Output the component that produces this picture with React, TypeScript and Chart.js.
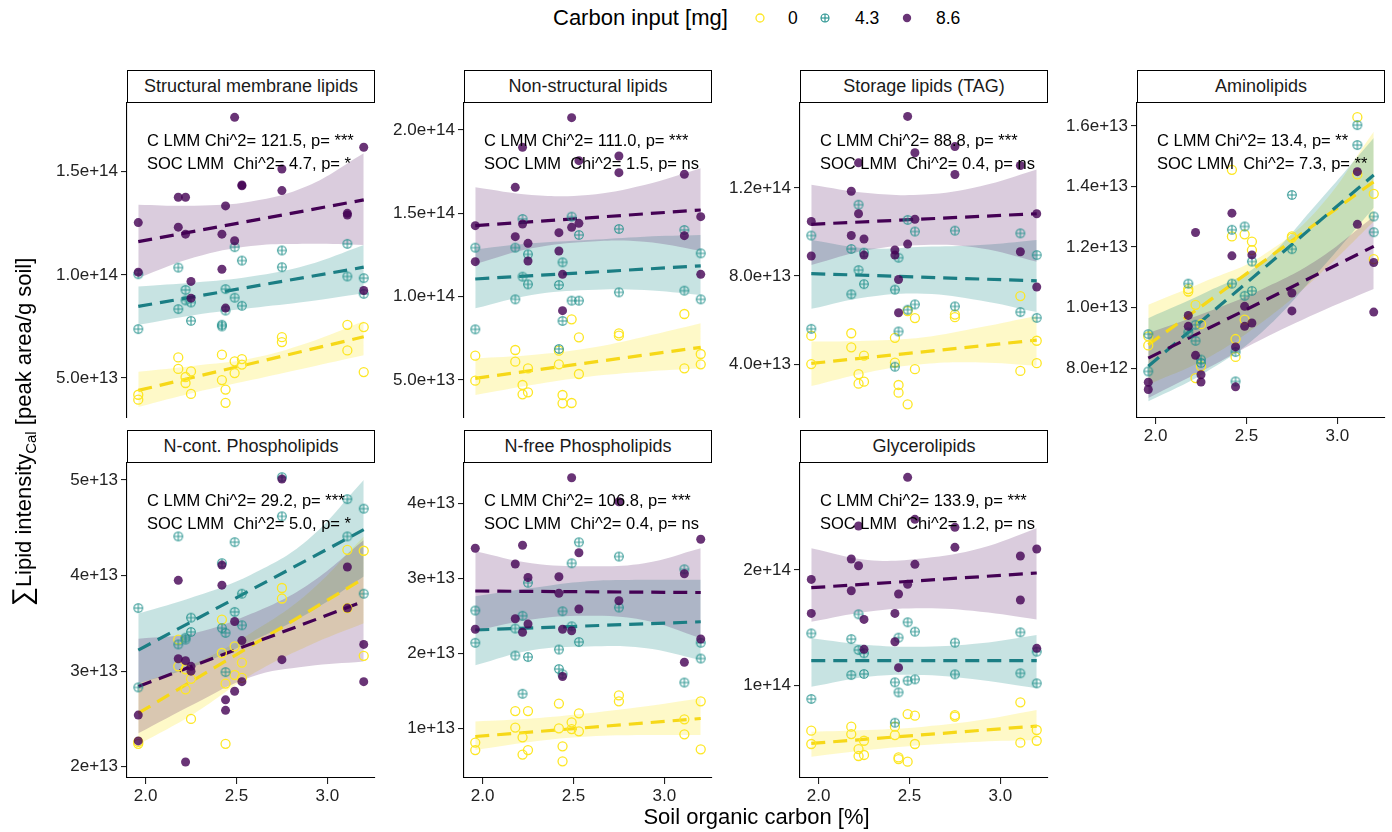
import React, { useEffect, useRef } from "react";
import { Chart, registerables } from "chart.js";
Chart.register(...registerables);

// ---------- shared data ----------
const SOC = [1.96, 2.18, 2.22, 2.25, 2.42, 2.44, 2.49, 2.53, 2.75, 3.11, 3.2];
const BAND_X = [1.96, 2.27, 2.58, 2.89, 3.2];
const LINE_X = [1.96, 3.2];
const X_RANGE = [1.898, 3.262];
const X_TICKS = [2.0, 2.5, 3.0];
const X_TICK_LABELS = ["2.0", "2.5", "3.0"];
const GROUPS = ["0", "4.3", "8.6"];

// ---------- Structural membrane lipids (x1e13) ----------
const SML_0 = [[4.19, 3.95], [6.0, 5.44], [5.05, 4.76], [5.32, 4.23], [6.13, 4.9], [4.44, 3.8], [5.81, 5.24], [5.92, 5.65], [6.98, 6.74], [7.58, 6.34], [7.47, 5.29]];
const SML_43 = [[10.03, 7.37], [10.35, 8.34], [9.27, 8.76], [8.66, 7.77], [7.58, 7.5], [9.31, 8.27], [11.34, 8.89], [10.69, 8.5], [11.18, 10.37], [11.5, 9.92], [9.84, 9.08]];
const SML_86 = [[12.53, 10.13], [13.76, 12.31], [13.76, 11.97], [9.68, 8.87], [11.97, 10.27], [13.34, 8.39], [17.63, 11.65], [14.35, 14.31], [15.13, 14.08], [12.98, 12.9], [16.18, 9.24]];
const SML_FIT = [[4.4, 7.0], [8.47, 10.37], [11.61, 13.63]];
const SML_LO = [[3.6, 4.3, 4.9, 5.5, 6.1], [7.58, 8.06, 8.39, 8.71, 9.11], [9.85, 10.85, 11.4, 11.5, 11.45]];
const SML_HI = [[5.3, 5.6, 5.95, 6.7, 7.75], [9.44, 9.63, 9.92, 10.48, 11.45], [13.4, 13.35, 13.55, 14.3, 15.89]];
const SML_YTICKS = [5e13, 1e14, 1.5e14];
const SML_YLABELS = ["5.0e+13", "1.0e+14", "1.5e+14"];
const SML_YRANGE = [3.064e13, 1.8325e14];
const SML_STATS = ["C LMM Chi^2= 121.5, p= ***", "SOC LMM  Chi^2= 4.7, p= *"];

// ---------- Non-structural lipids (x1e13) ----------
const NSL_0 = [[6.46, 4.96], [6.8, 6.1], [4.7, 4.14], [5.7, 4.26], [6.76, 5.94], [4.1, 3.6], [8.64, 3.62], [7.56, 5.36], [7.8, 7.66], [8.96, 5.7], [6.56, 5.94]];
const NSL_43 = [[12.94, 8.04], [12.94, 9.84], [14.66, 11.2], [12.54, 10.74], [10.7, 6.86], [12.06, 8.54], [14.8, 9.76], [13.7, 9.76], [14.06, 10.26], [14.0, 10.36], [12.6, 9.84]];
const NSL_86 = [[14.26, 12.1], [16.56, 13.6], [18.96, 14.36], [13.2, 12.14], [13.84, 12.74], [11.34, 9.16], [20.74, 14.16], [18.16, 14.4], [18.44, 17.44], [17.34, 13.66], [14.8, 11.34]];
const NSL_FIT = [[5.1, 6.96], [11.06, 11.85], [14.26, 15.2]];
const NSL_LO = [[4.1, 4.7, 5.2, 5.5, 5.7], [9.3, 10.1, 10.4, 10.4, 10.1], [11.96, 12.9, 13.3, 13.3, 12.76]];
const NSL_HI = [[6.3, 6.5, 6.9, 7.6, 8.4], [12.84, 13.2, 13.4, 13.6, 13.7], [16.56, 16.1, 16.1, 16.7, 17.7]];
const NSL_YTICKS = [5e13, 1e14, 1.5e14, 2e14];
const NSL_YLABELS = ["5.0e+13", "1.0e+14", "1.5e+14", "2.0e+14"];
const NSL_YRANGE = [2.72e13, 2.162e14];
const NSL_STATS = ["C LMM Chi^2= 111.0, p= ***", "SOC LMM  Chi^2= 1.5, p= ns"];

// ---------- Storage lipids (TAG) (x1e13) ----------
const TAG_0 = [[5.29, 4.0], [5.4, 4.76], [3.54, 3.11], [4.38, 3.2], [5.19, 4.07], [3.05, 2.7], [6.41, 2.17], [6.09, 3.77], [6.25, 6.13], [7.09, 3.69], [5.06, 4.04]];
const TAG_43 = [[9.84, 5.6], [9.23, 7.17], [11.24, 8.27], [9.06, 7.63], [7.38, 3.88], [8.83, 5.48], [10.55, 6.47], [10.02, 6.71], [10.06, 6.62], [9.94, 6.36], [8.95, 6.1]];
const TAG_86 = [[10.48, 8.91], [11.85, 9.84], [13.14, 10.83], [9.68, 8.95], [9.18, 8.95], [7.84, 6.33], [15.25, 9.45], [13.6, 10.58], [13.88, 12.61], [13.02, 9.1], [10.83, 7.5]];
const TAG_FIT = [[4.03, 5.09], [8.11, 7.78], [10.35, 10.83]];
const TAG_LO = [[3.0, 3.62, 4.0, 4.07, 3.92], [6.51, 7.05, 7.2, 6.89, 6.36], [8.5, 9.18, 9.41, 9.26, 8.65]];
const TAG_HI = [[5.02, 5.06, 5.22, 5.67, 6.2], [9.64, 9.26, 9.33, 9.41, 9.64], [12.15, 11.77, 11.7, 12.08, 12.84]];
const TAG_YTICKS = [4e13, 8e13, 1.2e14];
const TAG_YLABELS = ["4.0e+13", "8.0e+13", "1.2e+14"];
const TAG_YRANGE = [1.55e13, 1.586e14];
const TAG_STATS = ["C LMM Chi^2= 88.8, p= ***", "SOC LMM  Chi^2= 0.4, p= ns"];

// ---------- Aminolipids (x1e12) ----------
const AML_0 = [[8.75, 9.05], [10.61, 10.53], [10.09, 7.67], [9.45, 8.06], [14.55, 12.35], [8.96, 8.37], [12.42, 9.6], [12.18, 11.9], [12.35, 12.3], [16.29, 14.4], [13.76, 11.6]];
const AML_43 = [[9.12, 7.89], [10.79, 9.18], [9.43, 8.9], [8.28, 8.17], [12.57, 10.79], [8.53, 7.56], [12.68, 10.39], [11.52, 10.55], [13.72, 11.93], [16.03, 15.37], [13.01, 12.49]];
const AML_86 = [[7.53, 7.29], [9.74, 9.38], [12.48, 8.42], [7.78, 7.54], [13.12, 11.71], [8.7, 7.38], [10.04, 9.38], [11.74, 9.49], [10.48, 9.89], [14.49, 12.75], [11.49, 9.85]];
const AML_FIT = [[8.77, 14.16], [8.06, 14.38], [8.33, 12.02]];
const AML_LO = [[7.45, 8.28, 9.49, 11.03, 12.84], [6.9, 7.84, 9.16, 11.14, 13.3], [7.01, 7.95, 8.94, 9.82, 10.61]];
const AML_HI = [[10.09, 10.86, 11.69, 13.23, 15.81], [9.65, 10.48, 11.47, 13.45, 15.6], [9.16, 9.82, 10.59, 11.58, 13.01]];
const AML_YTICKS = [8e12, 1e13, 1.2e13, 1.4e13, 1.6e13];
const AML_YLABELS = ["8.0e+12", "1.0e+13", "1.2e+13", "1.4e+13", "1.6e+13"];
const AML_YRANGE = [6.35e12, 1.676e13];
const AML_STATS = ["C LMM Chi^2= 13.4, p= **", "SOC LMM  Chi^2= 7.3, p= **"];

// ---------- N-cont. Phospholipids (x1e13) ----------
const NCP_0 = [[2.26, 2.24], [3.33, 3.05], [3.02, 2.81], [2.92, 2.5], [3.54, 3.19], [2.24, 2.87], [3.26, 2.96], [3.09, 2.93], [3.87, 3.76], [4.27, 3.66], [4.26, 3.16]];
const NCP_43 = [[3.66, 2.83], [4.41, 3.28], [3.35, 3.33], [3.56, 3.41], [4.13, 3.45], [3.4, 2.99], [4.35, 3.62], [3.81, 3.48], [5.03, 4.62], [4.8, 4.41], [4.7, 3.81]];
const NCP_86 = [[2.54, 2.27], [3.95, 3.13], [3.11, 2.05], [3.05, 3.0], [4.11, 3.9], [2.7, 2.59], [3.52, 2.79], [3.32, 2.89], [5.01, 3.12], [4.09, 3.66], [3.28, 2.89]];
const NCP_FIT = [[2.56, 3.97], [3.22, 4.48], [2.84, 3.73]];
const NCP_LO = [[2.23, 2.56, 2.96, 3.26, 3.5], [2.87, 3.05, 3.31, 3.6, 3.99], [2.35, 2.66, 2.94, 3.05, 3.1]];
const NCP_HI = [[2.87, 3.08, 3.4, 3.81, 4.41], [3.6, 3.78, 4.01, 4.37, 5.0], [3.34, 3.4, 3.6, 3.9, 4.37]];
const NCP_YTICKS = [2e13, 3e13, 4e13, 5e13];
const NCP_YLABELS = ["2e+13", "3e+13", "4e+13", "5e+13"];
const NCP_YRANGE = [1.882e13, 5.178e13];
const NCP_STATS = ["C LMM Chi^2= 29.2, p= ***", "SOC LMM  Chi^2= 5.0, p= *"];

// ---------- N-free Phospholipids (x1e13) ----------
const NFP_0 = [[0.81, 0.71], [1.23, 1.01], [0.88, 0.65], [1.23, 0.71], [1.33, 1.0], [0.76, 0.56], [1.08, 0.99], [1.2, 0.96], [1.44, 1.36], [1.12, 0.92], [1.36, 0.72]];
const NFP_43 = [[2.57, 2.14], [2.33, 1.97], [2.5, 1.46], [2.94, 1.95], [2.05, 1.79], [2.56, 1.72], [3.2, 2.36], [3.48, 2.15], [3.29, 2.61], [3.12, 1.61], [2.14, 1.93]];
const NFP_86 = [[3.4, 2.32], [3.19, 2.46], [3.44, 2.28], [3.01, 2.39], [3.02, 2.8], [2.32, 1.69], [4.34, 2.3], [3.34, 2.59], [4.02, 2.7], [3.06, 1.88], [3.52, 2.19]];
const NFP_FIT = [[0.89, 1.13], [2.31, 2.42], [2.83, 2.81]];
const NFP_LO = [[0.71, 0.82, 0.89, 0.91, 0.91], [1.84, 2.04, 2.09, 2.07, 1.91], [2.3, 2.45, 2.5, 2.44, 2.2]];
const NFP_HI = [[1.09, 1.13, 1.2, 1.29, 1.4], [2.76, 2.87, 2.96, 2.98, 2.98], [3.36, 3.2, 3.16, 3.2, 3.4]];
const NFP_YTICKS = [1e13, 2e13, 3e13, 4e13];
const NFP_YLABELS = ["1e+13", "2e+13", "3e+13", "4e+13"];
const NFP_YRANGE = [3.37e12, 4.537e13];
const NFP_STATS = ["C LMM Chi^2= 106.8, p= ***", "SOC LMM  Chi^2= 0.4, p= ns"];

// ---------- Glycerolipids (x1e13) ----------
const GLY_0 = [[6.11, 4.96], [6.46, 5.82], [4.52, 3.92], [5.24, 4.01], [6.46, 5.73], [3.8, 3.66], [7.55, 3.43], [7.41, 4.96], [7.46, 7.32], [8.56, 5.07], [6.17, 5.24]];
const GLY_43 = [[14.52, 8.85], [14.03, 10.92], [16.17, 13.08], [12.8, 11.01], [10.29, 6.8], [14.15, 9.42], [15.48, 10.43], [14.67, 10.55], [13.72, 10.98], [14.61, 11.07], [12.94, 10.2]];
const GLY_86 = [[19.19, 16.25], [20.95, 18.21], [23.8, 20.37], [15.73, 13.14], [16.25, 13.8], [17.93, 11.56], [28.01, 18.76], [24.38, 20.49], [23.69, 21.96], [21.21, 17.41], [21.82, 13.23]];
const GLY_FIT = [[5.01, 6.51], [12.16, 12.16], [18.47, 19.74]];
const GLY_LO = [[3.86, 4.44, 4.87, 5.16, 5.3], [9.91, 10.78, 10.92, 10.49, 9.77], [15.53, 16.4, 16.69, 16.4, 15.73]];
const GLY_HI = [[6.02, 6.17, 6.46, 7.03, 7.9], [14.09, 13.52, 13.37, 13.66, 14.38], [21.87, 20.86, 21.01, 21.87, 23.6]];
const GLY_YTICKS = [1e14, 2e14];
const GLY_YLABELS = ["1e+14", "2e+14"];
const GLY_YRANGE = [2.02e13, 2.925e14];
const GLY_STATS = ["C LMM Chi^2= 133.9, p= ***", "SOC LMM  Chi^2= 1.2, p= ns"];

// ---------- layout / style ----------
const FONT = "'Liberation Sans', Arial, Helvetica, sans-serif";
const COL_LEFT = [127, 464, 800, 1137];
const ROW_TOP = [103, 463];
const PANEL_W = 248;
const PANEL_H = 315;
const AX_W = 90;
const PAD = 15;
const XAX_H = 36;
const POINT_COLORS = ["rgba(253,231,37,1)", "rgba(33,144,140,0.9)", "rgba(68,1,84,0.8)"];
const LINE_COLORS = ["#F6D818", "#1B7E84", "#440154"];
const BAND_COLORS = ["rgba(253,231,37,0.25)", "rgba(33,144,140,0.25)", "rgba(68,1,84,0.2)"];

const PANELS = [
  { title: "Structural membrane lipids", col: 0, row: 0, unit: 1e13, pts: [SML_0, SML_43, SML_86], fit: SML_FIT, lo: SML_LO, hi: SML_HI, yticks: SML_YTICKS, ylabels: SML_YLABELS, yrange: SML_YRANGE, stats: SML_STATS, showX: false },
  { title: "Non-structural lipids", col: 1, row: 0, unit: 1e13, pts: [NSL_0, NSL_43, NSL_86], fit: NSL_FIT, lo: NSL_LO, hi: NSL_HI, yticks: NSL_YTICKS, ylabels: NSL_YLABELS, yrange: NSL_YRANGE, stats: NSL_STATS, showX: false },
  { title: "Storage lipids (TAG)", col: 2, row: 0, unit: 1e13, pts: [TAG_0, TAG_43, TAG_86], fit: TAG_FIT, lo: TAG_LO, hi: TAG_HI, yticks: TAG_YTICKS, ylabels: TAG_YLABELS, yrange: TAG_YRANGE, stats: TAG_STATS, showX: false },
  { title: "Aminolipids", col: 3, row: 0, unit: 1e12, pts: [AML_0, AML_43, AML_86], fit: AML_FIT, lo: AML_LO, hi: AML_HI, yticks: AML_YTICKS, ylabels: AML_YLABELS, yrange: AML_YRANGE, stats: AML_STATS, showX: true },
  { title: "N-cont. Phospholipids", col: 0, row: 1, unit: 1e13, pts: [NCP_0, NCP_43, NCP_86], fit: NCP_FIT, lo: NCP_LO, hi: NCP_HI, yticks: NCP_YTICKS, ylabels: NCP_YLABELS, yrange: NCP_YRANGE, stats: NCP_STATS, showX: true },
  { title: "N-free Phospholipids", col: 1, row: 1, unit: 1e13, pts: [NFP_0, NFP_43, NFP_86], fit: NFP_FIT, lo: NFP_LO, hi: NFP_HI, yticks: NFP_YTICKS, ylabels: NFP_YLABELS, yrange: NFP_YRANGE, stats: NFP_STATS, showX: true },
  { title: "Glycerolipids", col: 2, row: 1, unit: 1e13, pts: [GLY_0, GLY_43, GLY_86], fit: GLY_FIT, lo: GLY_LO, hi: GLY_HI, yticks: GLY_YTICKS, ylabels: GLY_YLABELS, yrange: GLY_YRANGE, stats: GLY_STATS, showX: true },
];

function makeCirclePlus(color: string): HTMLCanvasElement {
  const c = document.createElement("canvas");
  c.width = 12;
  c.height = 12;
  const g = c.getContext("2d")!;
  g.strokeStyle = color;
  g.lineWidth = 1.1;
  g.beginPath();
  g.arc(6, 6, 4.3, 0, Math.PI * 2);
  g.stroke();
  g.beginPath();
  g.moveTo(1.7, 6);
  g.lineTo(10.3, 6);
  g.moveTo(6, 1.7);
  g.lineTo(6, 10.3);
  g.stroke();
  return c;
}

function Panel({ p }: { p: any }) {
  const ref = useRef<HTMLCanvasElement>(null);
  const left = COL_LEFT[p.col];
  const top = ROW_TOP[p.row];
  const cw = AX_W + PANEL_W + PAD;
  const ch = PAD + PANEL_H + (p.showX ? XAX_H : PAD);

  useEffect(() => {
    const canvas = ref.current!;
    const plus = makeCirclePlus(POINT_COLORS[1]);
    const datasets: any[] = [];
    // points: purple on top
    for (let g = 2; g >= 0; g--) {
      const data: any[] = [];
      p.pts[g].forEach((vals: number[], i: number) => {
        vals.forEach((v) => data.push({ x: SOC[i], y: v * p.unit }));
      });
      datasets.push({
        type: "scatter",
        label: GROUPS[g],
        data,
        order: 2 - g,
        pointStyle: g === 1 ? plus : "circle",
        pointRadius: 4.5,
        pointHoverRadius: 4.5,
        borderWidth: g === 0 ? 1.3 : 0,
        borderColor: g === 0 ? POINT_COLORS[0] : "rgba(0,0,0,0)",
        backgroundColor: g === 2 ? POINT_COLORS[2] : "rgba(0,0,0,0)",
      });
    }
    // fit lines
    for (let g = 0; g < 3; g++) {
      datasets.push({
        type: "line",
        label: "fit" + GROUPS[g],
        data: LINE_X.map((x, i) => ({ x, y: p.fit[g][i] * p.unit })),
        order: 10 - g,
        borderColor: LINE_COLORS[g],
        borderWidth: 3.2,
        borderDash: [14, 8],
        pointRadius: 0,
        fill: false,
      });
    }
    // confidence bands
    for (let g = 0; g < 3; g++) {
      datasets.push({
        type: "line",
        label: "lo" + GROUPS[g],
        data: BAND_X.map((x, i) => ({ x, y: p.lo[g][i] * p.unit })),
        order: 20 - g,
        borderWidth: 0,
        borderColor: "rgba(0,0,0,0)",
        pointRadius: 0,
        tension: 0.4,
        fill: false,
      });
      datasets.push({
        type: "line",
        label: "hi" + GROUPS[g],
        data: BAND_X.map((x, i) => ({ x, y: p.hi[g][i] * p.unit })),
        order: 20 - g,
        borderWidth: 0,
        borderColor: "rgba(0,0,0,0)",
        backgroundColor: BAND_COLORS[g],
        pointRadius: 0,
        tension: 0.4,
        fill: "-1",
      });
    }

    const tickFont = { family: FONT, size: 17 };
    const chart = new Chart(canvas, {
      type: "scatter",
      data: { datasets },
      options: {
        animation: false,
        responsive: false,
        devicePixelRatio: 1,
        layout: { padding: { left: 0, top: PAD, right: PAD, bottom: p.showX ? 0 : PAD } },
        plugins: { legend: { display: false }, tooltip: { enabled: false } },
        events: [],
        scales: {
          x: {
            type: "linear",
            min: X_RANGE[0],
            max: X_RANGE[1],
            display: p.showX,
            afterBuildTicks: (s: any) => {
              s.ticks = X_TICKS.map((v) => ({ value: v }));
            },
            afterFit: (s: any) => {
              s.height = p.showX ? XAX_H : 0;
            },
            grid: { display: true, drawOnChartArea: false, drawTicks: true, tickLength: 6, color: "#222", lineWidth: 1.1 },
            border: { display: true, color: "#000", width: 1.1 },
            ticks: {
              autoSkip: false,
              maxRotation: 0,
              padding: 2,
              color: "#222",
              font: tickFont,
              callback: (_v: any, i: number) => X_TICK_LABELS[i],
            },
          },
          y: {
            type: "linear",
            position: "left",
            min: p.yrange[0],
            max: p.yrange[1],
            afterBuildTicks: (s: any) => {
              s.ticks = p.yticks.map((v: number) => ({ value: v }));
            },
            afterFit: (s: any) => {
              s.width = AX_W;
            },
            grid: { display: true, drawOnChartArea: false, drawTicks: true, tickLength: 6, color: "#222", lineWidth: 1.1 },
            border: { display: true, color: "#000", width: 1.1 },
            ticks: {
              autoSkip: false,
              padding: 3,
              color: "#222",
              font: tickFont,
              callback: (_v: any, i: number) => p.ylabels[i],
            },
          },
        },
      } as any,
    });
    return () => chart.destroy();
  }, []);

  return (
    <>
      <canvas
        ref={ref}
        width={cw}
        height={ch}
        style={{ position: "absolute", left: left - AX_W, top: top - PAD, width: cw, height: ch }}
      />
      <div
        style={{
          position: "absolute",
          left,
          top: top - 33,
          width: PANEL_W,
          height: 33,
          boxSizing: "border-box",
          border: "1.5px solid #000",
          background: "#fff",
          fontSize: 18,
          lineHeight: "30px",
          textAlign: "center",
          color: "#1a1a1a",
          whiteSpace: "nowrap",
        }}
      >
        {p.title}
      </div>
      {p.stats.map((s: string, i: number) => (
        <div
          key={i}
          style={{
            position: "absolute",
            left: left + 20,
            top: top + 37 + i * 23 - 11,
            fontSize: 16.5,
            lineHeight: "22px",
            whiteSpace: "pre",
            color: "#000",
          }}
        >
          {s}
        </div>
      ))}
    </>
  );
}

export default function App() {
  return (
    <div
      style={{
        position: "absolute",
        left: 0,
        top: 0,
        width: 1392,
        height: 832,
        background: "#fff",
        fontFamily: FONT,
        color: "#000",
        overflow: "hidden",
      }}
    >
      {/* legend */}
      <div style={{ position: "absolute", left: 553, top: 5, fontSize: 22, lineHeight: "26px", whiteSpace: "nowrap" }}>
        Carbon input [mg]
      </div>
      <svg width={12} height={12} style={{ position: "absolute", left: 754, top: 12 }}>
        <circle cx={6} cy={6} r={4} fill="none" stroke="#FDE725" strokeWidth={1.3} />
      </svg>
      <div style={{ position: "absolute", left: 788, top: 7, fontSize: 17.5, lineHeight: "22px" }}>{GROUPS[0]}</div>
      <svg width={12} height={12} style={{ position: "absolute", left: 819, top: 12 }}>
        <circle cx={6} cy={6} r={4} fill="none" stroke="#21908C" strokeWidth={1.1} />
        <line x1={2} y1={6} x2={10} y2={6} stroke="#21908C" strokeWidth={1.1} />
        <line x1={6} y1={2} x2={6} y2={10} stroke="#21908C" strokeWidth={1.1} />
      </svg>
      <div style={{ position: "absolute", left: 855, top: 7, fontSize: 17.5, lineHeight: "22px" }}>{GROUPS[1]}</div>
      <svg width={12} height={12} style={{ position: "absolute", left: 901, top: 12 }}>
        <circle cx={6} cy={6} r={4.2} fill="rgba(68,1,84,0.8)" />
      </svg>
      <div style={{ position: "absolute", left: 936, top: 7, fontSize: 17.5, lineHeight: "22px" }}>{GROUPS[2]}</div>

      {PANELS.map((p, i) => (
        <Panel key={i} p={p} />
      ))}

      {/* axis titles */}
      <div
        style={{
          position: "absolute",
          left: 127,
          width: 1259,
          top: 804,
          fontSize: 22,
          lineHeight: "26px",
          textAlign: "center",
          whiteSpace: "nowrap",
        }}
      >
        Soil organic carbon [%]
      </div>
      <div
        style={{
          position: "absolute",
          left: 22 - 300,
          top: 432 - 16,
          width: 600,
          height: 32,
          lineHeight: "32px",
          textAlign: "center",
          transform: "rotate(-90deg)",
          fontSize: 22,
          whiteSpace: "nowrap",
        }}
      >
        <span style={{ fontSize: 27 }}>∑</span>Lipid intensity
        <sub style={{ fontSize: 15 }}>Cal</sub> [peak area/g soil]
      </div>
    </div>
  );
}
